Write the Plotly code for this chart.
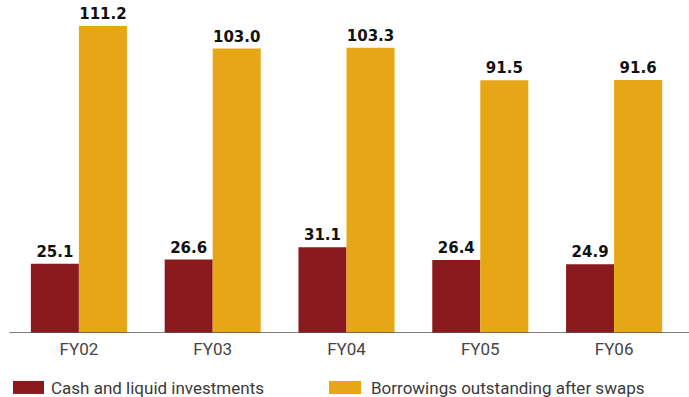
import plotly.graph_objects as go

years = ["FY02", "FY03", "FY04", "FY05", "FY06"]
cash = [25.1, 26.6, 31.1, 26.4, 24.9]
borrowings = [111.2, 103.0, 103.3, 91.5, 91.6]
series_names = ["Cash and liquid investments", "Borrowings outstanding after swaps"]

RED = "#8B1A1F"
GOLD = "#E6A615"
LABEL_FONT = dict(family="DejaVu Sans", size=15, color="#111111", weight="bold")
TEXT_FONT = "Roboto, sans-serif"

fig = go.Figure()
fig.add_trace(go.Bar(x=years, y=cash, name=series_names[0], marker_color=RED,
                     marker_line_width=0,
                     text=[f"{v:.1f}" for v in cash], textposition="outside",
                     textfont=LABEL_FONT, cliponaxis=False))
fig.add_trace(go.Bar(x=years, y=borrowings, name=series_names[1], marker_color=GOLD,
                     marker_line_width=0,
                     text=[f"{v:.1f}" for v in borrowings], textposition="outside",
                     textfont=LABEL_FONT, cliponaxis=False))

# baseline
fig.add_shape(type="line", xref="paper", yref="y", x0=-0.004, x1=1.012, y0=0, y1=0,
              line=dict(color="#555555", width=1.5))

# legend swatches and labels
legend_swatch = [(0.0015, 0.0478), (0.4738, 0.5217)]
legend_text_x = [0.0553, 0.5336]
for (x0, x1), xt, color, name in zip(legend_swatch, legend_text_x, [RED, GOLD], series_names):
    fig.add_shape(type="rect", xref="paper", yref="paper",
                  x0=x0, x1=x1, y0=-0.144, y1=-0.183,
                  fillcolor=color, line_width=0)
    fig.add_annotation(xref="paper", yref="paper", x=xt, y=-0.164,
                       text=name, showarrow=False, xanchor="left", yanchor="middle",
                       font=dict(family=TEXT_FONT, size=17, color="#3a3a3a"))

fig.update_layout(
    width=689, height=397,
    margin=dict(l=12, r=8, t=0, b=64),
    barmode="group", bargap=0.282, bargroupgap=0,
    showlegend=False,
    plot_bgcolor="white", paper_bgcolor="white",
    xaxis=dict(showgrid=False, showline=False, ticks="", ticklabelstandoff=4,
               tickfont=dict(family=TEXT_FONT, size=17, color="#444444")),
    yaxis=dict(range=[0, 120.6], visible=False, showgrid=False),
)

fig.write_html("out.html")
